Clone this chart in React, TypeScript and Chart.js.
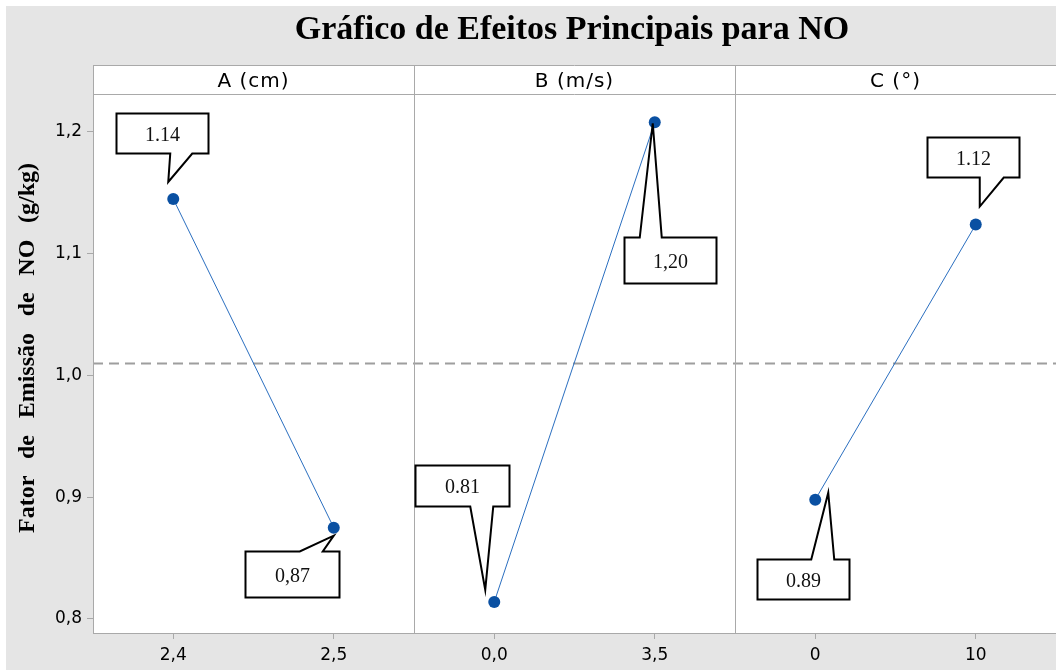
import React, { useEffect, useRef } from "react";
import { Chart, registerables } from "chart.js";

Chart.register(...registerables);

// ---------------- data ----------------
const chartTitle = "Gráfico de Efeitos Principais para NO";
const yAxisTitle = "Fator de Emissão de NO (g/kg)";
const factorNames = ["A (cm)", "B (m/s)", "C (°)"];
const levelsA = ["2,4", "2,5"];
const levelsB = ["0,0", "3,5"];
const levelsC = ["0", "10"];
const meansA = [1.145, 0.875];
const meansB = [0.814, 1.208];
const meansC = [0.898, 1.124];
const calloutA = ["1.14", "0,87"];
const calloutB = ["0.81", "1,20"];
const calloutC = ["0.89", "1.12"];
const overallMean = 1.01;
const yTickValues = [0.8, 0.9, 1.0, 1.1, 1.2];
const yMin = 0.7885;
const yMax = 1.2312;

// ---------------- styles ----------------
const BG = "#e5e5e5";
const PANEL_LINE = "#a9a9a9";
const LINE_BLUE = "#2b6fc0";
const POINT_BLUE = "#0a50a2";
const HEADER_TOP = 65;
const SANS = '"DejaVu Sans", "Noto Sans", sans-serif';
const SERIF = '"Liberation Serif", "DejaVu Serif", serif';

// callout shapes relative to the point pixel (box l,r,t,b; pointer base on edge; tip)
type Shape = { l: number; r: number; t: number; b: number; edge: "top" | "bottom"; b1: number; b2: number; tx: number; ty: number };
const calloutShapes: Shape[][] = [
  [
    { l: -57, r: 35, t: -86, b: -46, edge: "bottom", b1: -3, b2: 19, tx: -5, ty: -17 },
    { l: -89, r: 5, t: 23, b: 69, edge: "top", b1: -34, b2: -11, tx: 0, ty: 8 },
  ],
  [
    { l: -79, r: 15, t: -137, b: -96, edge: "bottom", b1: -24, b2: -1, tx: -9, ty: -12 },
    { l: -31, r: 61, t: 115, b: 161, edge: "top", b1: -15, b2: 7, tx: -2, ty: 1 },
  ],
  [
    { l: -58, r: 34, t: 59, b: 99, edge: "top", b1: -4, b2: 19, tx: 13, ty: -7 },
    { l: -49, r: 43, t: -88, b: -48, edge: "bottom", b1: 4, b2: 28, tx: 4, ty: -18 },
  ],
];

const panels = [
  { name: factorNames[0], levels: levelsA, means: meansA, callouts: calloutA },
  { name: factorNames[1], levels: levelsB, means: meansB, callouts: calloutB },
  { name: factorNames[2], levels: levelsC, means: meansC, callouts: calloutC },
];

const tickPositions: number[] = [];
const tickLabels: Record<string, string> = {};
panels.forEach((p, i) =>
  p.levels.forEach((lv, j) => {
    const x = i * 2 + j + 0.5;
    tickPositions.push(x);
    tickLabels[x.toFixed(1)] = lv;
  })
);

const fmtComma = (v: number) => v.toFixed(1).replace(".", ",");

const decorPlugin = {
  id: "decor",
  beforeDraw(chart: any) {
    const { ctx, chartArea: ca, width, height } = chart;
    ctx.save();
    ctx.fillStyle = "#ffffff";
    ctx.fillRect(0, 0, width, height);
    ctx.fillStyle = BG;
    ctx.fillRect(6, 6, width - 6, height - 7);
    ctx.fillStyle = "#ffffff";
    ctx.fillRect(ca.left, HEADER_TOP, ca.right - ca.left, ca.bottom - HEADER_TOP);

    // title
    ctx.fillStyle = "#000";
    ctx.font = `bold 34px ${SERIF}`;
    ctx.textAlign = "center";
    ctx.textBaseline = "alphabetic";
    ctx.fillText(chartTitle, 572, 39);

    // y axis title
    ctx.save();
    ctx.translate(28, 348);
    ctx.rotate(-Math.PI / 2);
    ctx.font = `bold 24px ${SERIF}`;
    ctx.textBaseline = "middle";
    ctx.textAlign = "center";
    try {
      (ctx as any).wordSpacing = "0px";
      const w = ctx.measureText(yAxisTitle).width;
      const n = yAxisTitle.split(" ").length - 1;
      const ws = Math.max(0, (370 - w) / n);
      (ctx as any).wordSpacing = `${ws}px`;
    } catch (e) {}
    ctx.fillText(yAxisTitle, 0, 0);
    ctx.restore();
    ctx.restore();
  },
  beforeDatasetsDraw(chart: any) {
    const { ctx, chartArea: ca, scales } = chart;
    const y = Math.round(scales.y.getPixelForValue(overallMean)) + 0.5;
    ctx.save();
    ctx.strokeStyle = "#9e9e9e";
    ctx.lineWidth = 2;
    ctx.setLineDash([10, 6]);
    ctx.beginPath();
    ctx.moveTo(ca.left, y);
    ctx.lineTo(ca.right, y);
    ctx.stroke();
    ctx.restore();
  },
  afterDraw(chart: any) {
    const { ctx, chartArea: ca, scales } = chart;
    ctx.save();
    ctx.strokeStyle = PANEL_LINE;
    ctx.lineWidth = 1;
    ctx.beginPath();
    ctx.moveTo(ca.left, HEADER_TOP + 0.5);
    ctx.lineTo(ca.right, HEADER_TOP + 0.5);
    ctx.moveTo(ca.left, Math.round(ca.top) + 0.5);
    ctx.lineTo(ca.right, Math.round(ca.top) + 0.5);
    for (let i = 0; i < panels.length; i++) {
      const px = Math.round(scales.x.getPixelForValue(i * 2)) + 0.5;
      ctx.moveTo(px, HEADER_TOP);
      ctx.lineTo(px, ca.bottom);
    }
    ctx.stroke();

    // header labels
    ctx.fillStyle = "#000";
    ctx.font = `20px ${SANS}`;
    ctx.textAlign = "center";
    ctx.textBaseline = "alphabetic";
    try { (ctx as any).letterSpacing = "1px"; } catch (e) {}
    panels.forEach((p, i) => {
      const cx = (scales.x.getPixelForValue(i * 2) + scales.x.getPixelForValue(i * 2 + 2)) / 2;
      ctx.fillText(p.name, cx, 87);
    });
    try { (ctx as any).letterSpacing = "0px"; } catch (e) {}

    // callouts
    ctx.lineWidth = 2;
    ctx.lineJoin = "miter";
    panels.forEach((p, i) => {
      p.means.forEach((m, j) => {
        const s = calloutShapes[i][j];
        const px = scales.x.getPixelForValue(i * 2 + j + 0.5);
        const py = scales.y.getPixelForValue(m);
        const L = Math.round(px + s.l) + 0.5, R = Math.round(px + s.r) + 0.5;
        const T = Math.round(py + s.t) + 0.5, B = Math.round(py + s.b) + 0.5;
        const B1 = px + s.b1, B2 = px + s.b2, TX = px + s.tx, TY = py + s.ty;
        ctx.beginPath();
        if (s.edge === "bottom") {
          ctx.moveTo(L, T);
          ctx.lineTo(R, T);
          ctx.lineTo(R, B);
          ctx.lineTo(B2, B);
          ctx.lineTo(TX, TY);
          ctx.lineTo(B1, B);
          ctx.lineTo(L, B);
        } else {
          ctx.moveTo(L, T);
          ctx.lineTo(B1, T);
          ctx.lineTo(TX, TY);
          ctx.lineTo(B2, T);
          ctx.lineTo(R, T);
          ctx.lineTo(R, B);
          ctx.lineTo(L, B);
        }
        ctx.closePath();
        ctx.fillStyle = "#fff";
        ctx.fill();
        ctx.strokeStyle = "#000";
        ctx.stroke();
        ctx.fillStyle = "#111";
        ctx.font = `20px ${SERIF}`;
        ctx.textAlign = "center";
        ctx.textBaseline = "middle";
        ctx.fillText(p.callouts[j], (L + R) / 2, (T + B) / 2 + 2);
      });
    });
    ctx.restore();
  },
};

export default function App() {
  const ref = useRef<HTMLCanvasElement | null>(null);
  useEffect(() => {
    if (!ref.current) return;
    const datasets = panels.map((p, i) => ({
      label: p.name,
      data: p.means.map((m, j) => ({ x: i * 2 + j + 0.5, y: m })),
      borderColor: LINE_BLUE,
      borderWidth: 1,
      pointBackgroundColor: POINT_BLUE,
      pointBorderColor: POINT_BLUE,
      pointBorderWidth: 0,
      pointRadius: 6,
      fill: false,
      tension: 0,
    }));
    const chart = new Chart(ref.current, {
      type: "line",
      data: { datasets },
      plugins: [decorPlugin],
      options: {
        animation: false,
        responsive: false,
        devicePixelRatio: 1,
        layout: { autoPadding: false, padding: { top: 94, left: 0, right: 0, bottom: 0 } },
        plugins: { legend: { display: false }, tooltip: { enabled: false }, title: { display: false } },
        scales: {
          x: {
            type: "linear",
            min: 0,
            max: 6,
            afterBuildTicks: (s: any) => {
              s.ticks = tickPositions.map((v) => ({ value: v }));
            },
            afterFit: (s: any) => {
              s.height = 38;
              s.paddingLeft = 0;
              s.paddingRight = 0;
            },
            ticks: {
              autoSkip: false,
              maxRotation: 0,
              padding: 6,
              color: "#000",
              font: { family: SANS, size: 17 },
              callback: (v: any) => tickLabels[Number(v).toFixed(1)] ?? "",
            },
            grid: { drawOnChartArea: false, drawTicks: true, tickLength: 6, color: PANEL_LINE },
            border: { display: true, color: PANEL_LINE },
          },
          y: {
            type: "linear",
            min: yMin,
            max: yMax,
            afterBuildTicks: (s: any) => {
              s.ticks = yTickValues.map((v) => ({ value: v }));
            },
            afterFit: (s: any) => {
              s.width = 93;
              s.paddingTop = 0;
              s.paddingBottom = 0;
            },
            ticks: {
              autoSkip: false,
              padding: 5,
              color: "#000",
              font: { family: SANS, size: 17 },
              callback: (v: any) => fmtComma(Number(v)),
            },
            grid: { drawOnChartArea: false, drawTicks: true, tickLength: 6, color: PANEL_LINE },
            border: { display: true, color: PANEL_LINE },
          },
        },
      } as any,
    });
    return () => chart.destroy();
  }, []);
  return (
    <div style={{ position: "absolute", left: 0, top: 0, width: 1056, height: 671 }}>
      <canvas ref={ref} width={1056} height={671} style={{ display: "block", width: 1056, height: 671 }} />
    </div>
  );
}
